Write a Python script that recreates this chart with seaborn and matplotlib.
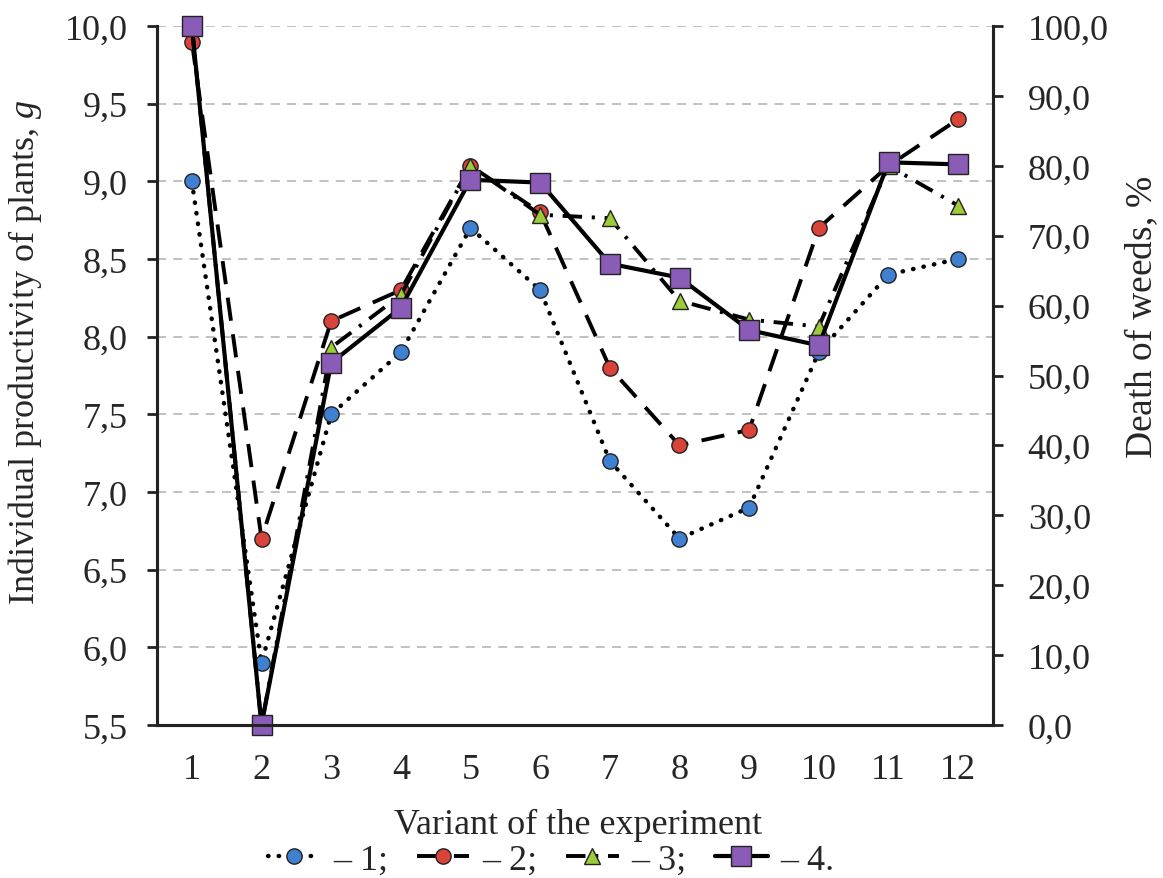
import numpy as np
import pandas as pd
import matplotlib
matplotlib.use("Agg")
import matplotlib.pyplot as plt
from matplotlib.lines import Line2D
import seaborn as sns

# ---- data ----
variants = [1, 2, 3, 4, 5, 6, 7, 8, 9, 10, 11, 12]
productivity_1 = [9.0, 5.9, 7.5, 7.9, 8.7, 8.3, 7.2, 6.7, 6.9, 7.9, 8.4, 8.5]
productivity_2 = [9.9, 6.7, 8.1, 8.3, 9.1, 8.8, 7.8, 7.3, 7.4, 8.7, 9.1, 9.4]
weeds_3 = [100.0, 0.0, 54.0, 61.5, 80.0, 73.0, 72.5, 60.7, 58.0, 57.0, 80.0, 74.3]
weeds_4 = [100.0, 0.0, 51.8, 59.7, 78.0, 77.6, 66.0, 64.0, 56.5, 54.3, 80.5, 80.2]
left_ticks = [5.5, 6.0, 6.5, 7.0, 7.5, 8.0, 8.5, 9.0, 9.5, 10.0]
left_ticklabels = ["5,5", "6,0", "6,5", "7,0", "7,5", "8,0", "8,5", "9,0", "9,5", "10,0"]
right_ticks = [0, 10, 20, 30, 40, 50, 60, 70, 80, 90, 100]
right_ticklabels = ["0,0", "10,0", "20,0", "30,0", "40,0", "50,0", "60,0", "70,0",
                    "80,0", "90,0", "100,0"]
legend_labels = ["– 1;", "– 2;", "– 3;", "– 4."]

sns.set_style("white")
plt.rcParams["font.family"] = ["Liberation Serif", "DejaVu Serif"]
plt.rcParams["mathtext.fontset"] = "custom"
plt.rcParams["mathtext.rm"] = "Liberation Serif"
plt.rcParams["mathtext.it"] = "Liberation Serif:italic"

FS = 26
TXT = "#262626"
fig = plt.figure(figsize=(11.63, 8.79), dpi=100)
ax = fig.add_axes([157 / 1163, 1 - 726 / 879, (993 - 157) / 1163, (726 - 27) / 879])
ax2 = ax.twinx()

df = pd.DataFrame({"v": variants, "p1": productivity_1, "p2": productivity_2,
                   "w3": weeds_3, "w4": weeds_4})

blue = "#3f80d0"
red = "#d8433a"
green = "#9ccc3a"
purple = "#8a5cb8"
edge = "#222222"

s1 = dict(color="black", linestyle=(0, (0.1, 2.3)), linewidth=3.2, dash_capstyle="round",
          marker="o", markersize=11, markerfacecolor=blue, markeredgecolor=edge,
          markeredgewidth=1.0)
s2 = dict(color="black", linestyle=(0, (6, 3.5)), linewidth=2.8,
          marker="o", markersize=11, markerfacecolor=red, markeredgecolor=edge,
          markeredgewidth=1.0)
s3 = dict(color="black", linestyle=(0, (5, 2.5, 0.8, 2.5)), linewidth=2.8,
          marker="^", markersize=11, markerfacecolor=green, markeredgecolor=edge,
          markeredgewidth=1.0)
s4 = dict(color="black", linestyle="-", linewidth=3.0,
          marker="s", markersize=14, markerfacecolor=purple, markeredgecolor=edge,
          markeredgewidth=1.0)

sns.lineplot(data=df, x="v", y="p1", ax=ax, legend=False, **s1)
sns.lineplot(data=df, x="v", y="p2", ax=ax, legend=False, **s2)
sns.lineplot(data=df, x="v", y="w3", ax=ax2, legend=False, **s3)
sns.lineplot(data=df, x="v", y="w4", ax=ax2, legend=False, **s4)

# axes limits and ticks
ax.set_xlim(0.5, 12.5)
ax.set_ylim(5.5, 10.0)
ax2.set_ylim(0, 100)
for a in (ax, ax2):
    for c in a.get_children():
        if isinstance(c, Line2D):
            c.set_clip_on(False)

ax.set_xticks(variants)
ax.set_xticklabels([str(v) for v in variants], fontsize=FS, color=TXT)
ax.set_xticks(np.arange(0.5, 13.0, 1.0), minor=True)
ax.tick_params(axis="x", which="major", length=0, pad=20)
ax.tick_params(axis="x", which="minor", length=7, width=2, direction="out", color="#222222")
ax.set_yticks(left_ticks)
ax.set_yticklabels(left_ticklabels, fontsize=FS, color=TXT)
ax.tick_params(axis="y", length=7, width=2, direction="out", color="#222222", pad=14)
ax2.set_yticks(right_ticks)
ax2.set_yticklabels(right_ticklabels, fontsize=FS, color=TXT)
ax2.tick_params(axis="y", length=7, width=2, direction="out", color="#222222", pad=18)

ax.yaxis.grid(True, linestyle=(0, (5, 4)), color="#bcbcbc", linewidth=1.3)
ax.xaxis.grid(False)
ax2.grid(False)

for a in (ax, ax2):
    a.spines["top"].set_visible(False)
    for s in ("left", "right", "bottom"):
        a.spines[s].set_linewidth(2.2)
        a.spines[s].set_color("#222222")

ax.set_xlabel("Variant of the experiment", fontsize=FS, color=TXT, va="center")
ax.xaxis.set_label_coords(0.504, -0.142)
ax.set_ylabel(r"Individual productivity of plants, $\it{g}$", fontsize=FS, color=TXT,
              va="center")
ax.yaxis.set_label_coords(-0.158, 0.535)
ax2.set_ylabel(r"Death of weeds, $\it{\%}$", fontsize=27, color=TXT, va="center")
ax2.yaxis.set_label_coords(1.178, 0.585)

handles = [Line2D([], [], **s1), Line2D([], [], **s2), Line2D([], [], **s3), Line2D([], [], **s4)]
leg = fig.legend(handles, legend_labels, loc="center", bbox_to_anchor=(0.474, 0.02),
                 ncol=4, frameon=False, fontsize=FS, handlelength=1.45, handletextpad=0.35,
                 columnspacing=0.8)
for t in leg.get_texts():
    t.set_color(TXT)

fig.savefig("out.png", dpi=100)
